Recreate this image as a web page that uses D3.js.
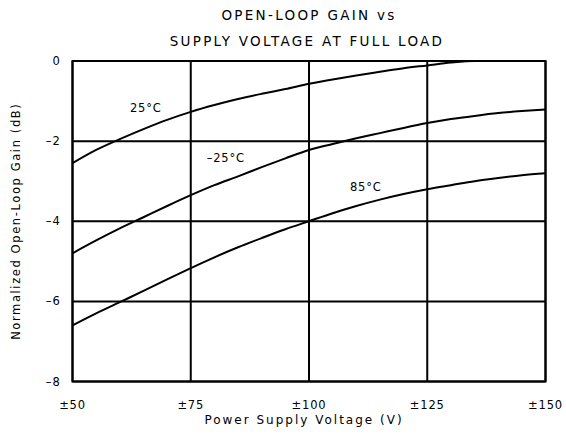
<!DOCTYPE html>
<html>
<head>
<meta charset="UTF-8" />
<title>Open-Loop Gain vs Supply Voltage</title>
<style>
    body { margin: 0; background: #fff; }
    svg { background: #fff; font-family: "DejaVu Sans", "Liberation Sans", sans-serif; }
    .grid line { stroke: #000; stroke-width: 2; }
    .frame { fill: none; stroke: #000; stroke-width: 2; }
    .curve { fill: none; stroke: #000; stroke-width: 2; }
    .tick-label { font-size: 11.5px; fill: #000; letter-spacing: 0.8px; }
    .axis-title { font-size: 12px; fill: #000; letter-spacing: 2px; }
    .y-title { font-size: 11.5px; fill: #000; letter-spacing: 1.6px; }
    .title { font-size: 13.5px; fill: #000; letter-spacing: 2.3px; }
</style>
<script src="https://cdn.jsdelivr.net/npm/d3@7"></script>
</head>
<body>
<div id="chart"></div>
<script>
// supply voltage (±V)
let voltage = [50, 55, 60, 65, 70, 75, 80, 85, 90, 95, 100, 105, 110, 115, 120, 125, 130, 135, 140, 145, 150];
// normalized open-loop gain (dB)
let gain25 = [-2.55, -2.22, -1.95, -1.7, -1.47, -1.27, -1.1, -0.95, -0.82, -0.7, -0.57, -0.46, -0.36, -0.27, -0.18, -0.11, -0.04, 0, 0];
let gainM25 = [-4.8, -4.48, -4.18, -3.9, -3.62, -3.35, -3.1, -2.88, -2.65, -2.43, -2.22, -2.07, -1.93, -1.8, -1.67, -1.55, -1.45, -1.37, -1.3, -1.25, -1.21];
let gain85 = [-6.6, -6.3, -6.02, -5.74, -5.45, -5.17, -4.9, -4.65, -4.42, -4.2, -4.0, -3.8, -3.62, -3.46, -3.32, -3.2, -3.1, -3.0, -2.92, -2.85, -2.8];

let xTicks = [50, 75, 100, 125, 150];
let xTickLabels = ["±50", "±75", "±100", "±125", "±150"];
let yTicks = [0, -2, -4, -6, -8];
let yTickLabels = ["0", "–2", "–4", "–6", "–8"];

let series = [
    { label: "25°C", values: gain25, lx: 65.5, ly: -1.17 },
    { label: "–25°C", values: gainM25, lx: 82.4, ly: -2.42 },
    { label: "85°C", values: gain85, lx: 112, ly: -3.14 }
];

let width = 566, height = 447;
let margin = { top: 61, right: 20, bottom: 65, left: 72.5 };

let svg = d3.select("#chart").append("svg")
    .attr("width", width)
    .attr("height", height);

let x = d3.scaleLinear().domain([50, 150]).range([margin.left, 545.5]);
let y = d3.scaleLinear().domain([-8, 0]).range([381.5, margin.top]);

// grid
let grid = svg.append("g").attr("class", "grid");
grid.selectAll(".vx")
    .data(xTicks)
    .enter()
    .append("line")
    .attr("x1", d => x(d)).attr("x2", d => x(d))
    .attr("y1", y(0)).attr("y2", y(-8));
grid.selectAll(".hy")
    .data(yTicks)
    .enter()
    .append("line")
    .attr("x1", x(50)).attr("x2", x(150))
    .attr("y1", d => y(d)).attr("y2", d => y(d));

svg.append("rect")
    .attr("class", "frame")
    .attr("x", x(50)).attr("y", y(0))
    .attr("width", x(150) - x(50))
    .attr("height", y(-8) - y(0));

// tick labels
svg.append("g").selectAll("text")
    .data(xTicks)
    .enter()
    .append("text")
    .attr("class", "tick-label")
    .attr("x", d => x(d))
    .attr("y", y(-8) + 27)
    .attr("text-anchor", "middle")
    .text((d, i) => xTickLabels[i]);

svg.append("g").selectAll("text")
    .data(yTicks)
    .enter()
    .append("text")
    .attr("class", "tick-label")
    .attr("x", x(50) - 12)
    .attr("y", d => y(d))
    .attr("dy", "0.35em")
    .attr("text-anchor", "end")
    .text((d, i) => yTickLabels[i]);

// curves
let line = d3.line()
    .x((d, i) => x(voltage[i]))
    .y(d => y(d))
    .curve(d3.curveMonotoneX);

svg.append("g").selectAll("path")
    .data(series)
    .enter()
    .append("path")
    .attr("class", "curve")
    .attr("d", d => line(d.values));

svg.append("g").selectAll("text")
    .data(series)
    .enter()
    .append("text")
    .attr("class", "tick-label")
    .attr("x", d => x(d.lx))
    .attr("y", d => y(d.ly))
    .attr("dy", "0.35em")
    .attr("text-anchor", "middle")
    .text(d => d.label);

// titles
svg.append("text")
    .attr("class", "title")
    .attr("x", 309).attr("y", 20)
    .attr("text-anchor", "middle")
    .text("OPEN-LOOP GAIN vs");
svg.append("text")
    .attr("class", "title")
    .attr("x", 307).attr("y", 46)
    .attr("text-anchor", "middle")
    .text("SUPPLY VOLTAGE AT FULL LOAD");

svg.append("text")
    .attr("class", "axis-title")
    .attr("x", 304).attr("y", 424)
    .attr("text-anchor", "middle")
    .text("Power Supply Voltage (V)");

svg.append("text")
    .attr("class", "y-title")
    .attr("transform", "translate(20," + ((y(0) + y(-8)) / 2) + ") rotate(-90)")
    .attr("text-anchor", "middle")
    .text("Normalized Open-Loop Gain (dB)");
</script>
</body>
</html>
